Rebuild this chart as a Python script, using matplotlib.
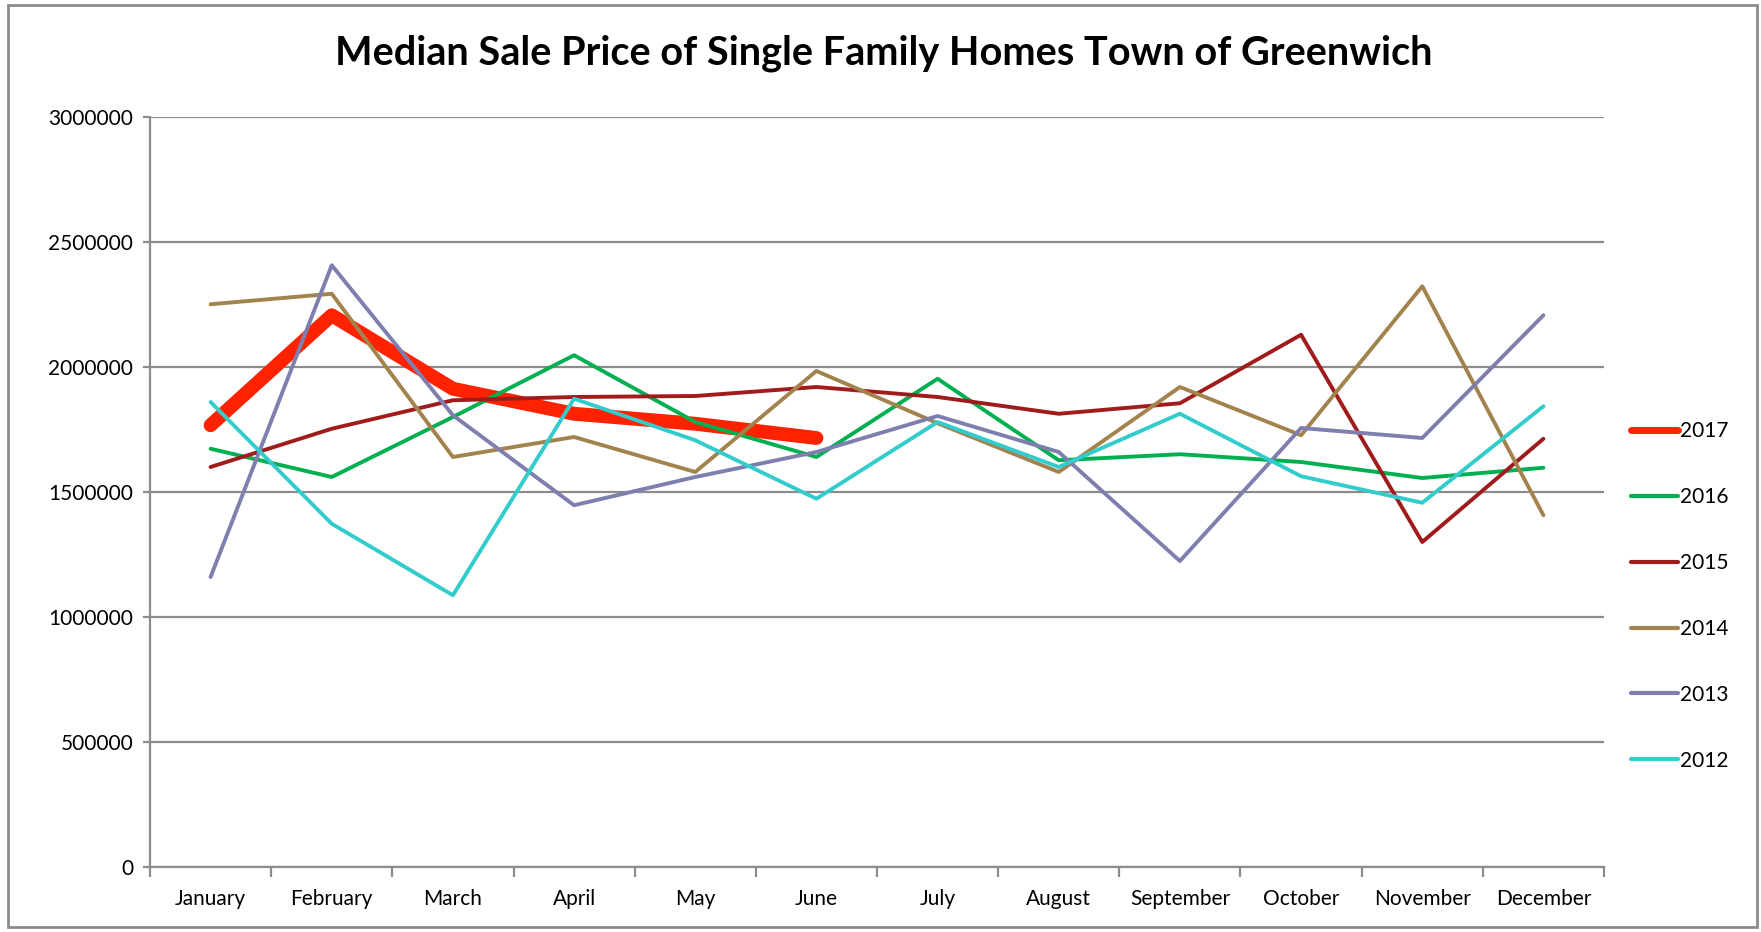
import matplotlib.pyplot as plt
from matplotlib.lines import Line2D
from matplotlib.patches import Rectangle
from matplotlib.ticker import FuncFormatter, MultipleLocator, FixedLocator

plt.rcParams['font.family'] = ['Lato', 'DejaVu Sans']

months = ["January", "February", "March", "April", "May", "June",
          "July", "August", "September", "October", "November", "December"]

years = ["2017", "2016", "2015", "2014", "2013", "2012"]

# median sale price per month
y2017 = [1767000, 2207000, 1913000, 1813000, 1773000, 1716000]
y2016 = [1673000, 1560000, 1800000, 2047000, 1780000, 1640000,
         1953000, 1627000, 1651000, 1620000, 1556000, 1597000]
y2015 = [1600000, 1753000, 1867000, 1880000, 1884000, 1920000,
         1880000, 1813000, 1855000, 2129000, 1300000, 1713000]
y2014 = [2251000, 2293000, 1640000, 1720000, 1580000, 1984000,
         1775000, 1580000, 1920000, 1727000, 2323000, 1407000]
y2013 = [1160000, 2407000, 1807000, 1447000, 1560000, 1660000,
         1804000, 1660000, 1224000, 1756000, 1716000, 2207000]
y2012 = [1860000, 1373000, 1087000, 1873000, 1707000, 1473000,
         1780000, 1600000, 1813000, 1563000, 1457000, 1843000]

series = [y2017, y2016, y2015, y2014, y2013, y2012]
colors = ["#ff2200", "#00b050", "#a01c1c", "#a3834d", "#7f7faf", "#33cccc"]
widths = [10, 2.8, 2.8, 2.8, 2.8, 2.8]

fig = plt.figure(figsize=(17.61, 9.32), dpi=100)
ax = fig.add_axes([150 / 1761, 65 / 932, (1604 - 150) / 1761, (867 - 117) / 932])

for i, (vals, c, w) in enumerate(zip(series, colors, widths)):
    ax.plot(range(len(vals)), vals, color=c, lw=w, solid_capstyle="round",
            solid_joinstyle="round", zorder=3 + i)

ax.set_xlim(-0.5, 11.5)
ax.set_ylim(0, 3000000)

# grid + axes styling (excel look)
ax.yaxis.set_major_locator(MultipleLocator(500000))
ax.yaxis.set_major_formatter(FuncFormatter(lambda v, p: f"{int(v)}"))
ax.grid(axis="y", color="#8c8c8c", lw=1.6, zorder=1)
for s in ["top", "right"]:
    ax.spines[s].set_visible(False)
for s in ["left", "bottom"]:
    ax.spines[s].set_color("#8c8c8c")
    ax.spines[s].set_linewidth(1.6)

ax.set_xticks(range(12))
ax.set_xticklabels(months, fontsize=15)
ax.tick_params(axis="x", length=0, pad=16)
ax.xaxis.set_minor_locator(FixedLocator([i - 0.5 for i in range(13)]))
ax.tick_params(axis="x", which="minor", length=7, width=1.6, color="#8c8c8c")
ax.tick_params(axis="y", length=5, width=1.6, color="#8c8c8c", labelsize=15, pad=7)

fig.suptitle("Median Sale Price of Single Family Homes Town of Greenwich",
             fontsize=28.5, fontweight="bold", x=0.502, y=1 - 53 / 932, va="center")

handles = [Line2D([], [], color=c, lw=(5 if y == "2017" else 3), solid_capstyle="round")
           for y, c in zip(years, colors)]
fig.legend(handles, years, loc="center left", bbox_to_anchor=(1631 / 1761, 1 - 596 / 932),
           frameon=False, fontsize=15, handlelength=2.25, handletextpad=0.1,
           labelspacing=2.2, borderpad=0, borderaxespad=0)

fig.add_artist(Rectangle((8 / 1761, 5 / 932), (1757 - 8) / 1761, (927 - 5) / 932,
                         transform=fig.transFigure, fill=False,
                         edgecolor="#8c8c8c", lw=2))

plt.savefig("out.png")
